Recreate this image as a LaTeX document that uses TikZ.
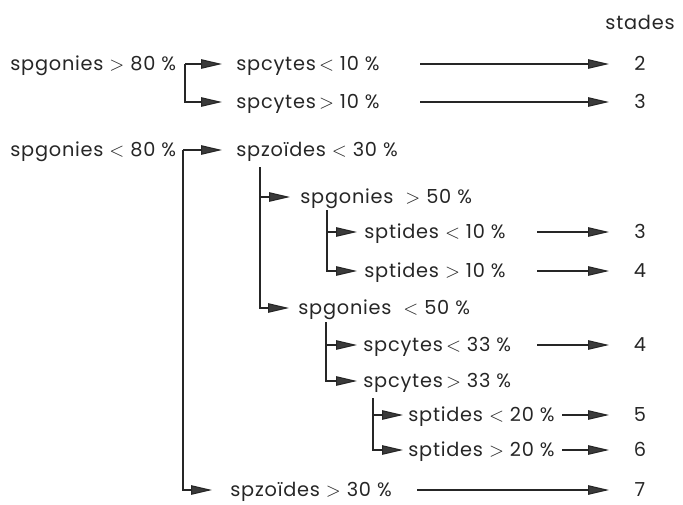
\documentclass[tikz,border=0pt]{standalone}
\usepackage{fontspec}
\setmainfont{Poppins}[LetterSpace=4]
\usetikzlibrary{arrows.meta}
\definecolor{inkgray}{HTML}{262626}
\definecolor{tipgray}{HTML}{3A3A3A}
\newcommand{\lsign}{$<$}
\newcommand{\gsign}{$>$}
\tikzset{
  br/.style={draw=inkgray,line width=0.6pt,
    -{Triangle[length=0.42cm,width=0.19cm,fill=tipgray]}},
}
\begin{document}
\begin{tikzpicture}[x=0.02cm,y=-0.02cm]
      \useasboundingbox (0,0) rectangle (683,504);

      \begin{scope}[every node/.style={anchor=west,inner sep=0pt,text height=7.7pt,text depth=0pt,
          text=inkgray,font=\fontsize{11}{13}\selectfont}]
        \node (l1) at (10,64)   {spgonies \gsign{} 80 \%};
        \node (l2) at (10,150)  {spgonies \lsign{} 80 \%};
        \node (c1) at (236,64)  {spcytes\,\lsign{} 10 \%};
        \node (c2) at (236,102) {spcytes\,\gsign{} 10 \%};
        \node (z1) at (236,150) {spzoïdes \lsign{} 30 \%};
        \node (g1) at (300,197) {spgonies \ \gsign{} 50 \%};
        \node (t1) at (364,232) {sptides \lsign{} 10 \%};
        \node (t2) at (364,271) {sptides \gsign{} 10 \%};
        \node (g2) at (298,308) {spgonies \ \lsign{} 50 \%};
        \node (c3) at (363,345) {spcytes\,\lsign{} 33 \%};
        \node (c4) at (363,381) {spcytes\,\gsign{} 33 \%};
        \node (t3) at (408,415) {sptides \lsign{} 20 \%};
        \node (t4) at (408,450) {sptides \gsign{} 20 \%};
        \node (z2) at (230,490) {spzoïdes \gsign{} 30 \%};
      \end{scope}

      \begin{scope}[every node/.style={anchor=center,inner sep=0pt,text height=7.7pt,text depth=0pt,
          text=inkgray,font=\fontsize{11}{13}\selectfont}]
        \node (st) at (640,23)  {stades};
        \node (r1) at (640,64)  {2};
        \node (r2) at (640,102) {3};
        \node (r3) at (640,232) {3};
        \node (r4) at (640,271) {4};
        \node (r5) at (640,345) {4};
        \node (r6) at (640,415) {5};
        \node (r7) at (640,450) {6};
        \node (r8) at (640,490) {7};
      \end{scope}

      % branch points
      \coordinate (j1) at (185,64);
      \coordinate (j2) at (183,150);
      \coordinate (j3) at (260,167);
      \coordinate (j4) at (327,210);
      \coordinate (j5) at (326,322);
      \coordinate (j6) at (373,398);

      % starts of the arrows to the stades
      \coordinate (a1) at (420,64);
      \coordinate (a2) at (420,102);
      \coordinate (a3) at (537,232);
      \coordinate (a4) at (537,271);
      \coordinate (a5) at (537,345);
      \coordinate (a6) at (562,415);
      \coordinate (a7) at (562,450);
      \coordinate (a8) at (417,490);

      \begin{scope}[every path/.style={br}]
        \draw[shorten >=0.28cm] (j1) -- (c1.west);
        \draw[shorten >=0.28cm] (j1) |- (c2.west);
        \draw[shorten >=0.28cm] (j2) -- (z1.west);
        \draw[shorten >=0.36cm] (j2) |- (z2.west);
        \draw[shorten >=0.2cm]  (j3) |- (g1.west);
        \draw[shorten >=0.18cm] (j3) |- (g2.west);
        \draw[shorten >=0.14cm] (j4) |- (t1.west);
        \draw[shorten >=0.14cm] (j4) |- (t2.west);
        \draw[shorten >=0.12cm] (j5) |- (c3.west);
        \draw[shorten >=0.12cm] (j5) |- (c4.west);
        \draw[shorten >=0.1cm]  (j6) |- (t3.west);
        \draw[shorten >=0.1cm]  (j6) |- (t4.west);
      \end{scope}

      \begin{scope}[every edge/.style={br,shorten >=0.62cm}]
        \path (a1) edge (r1.center);
        \path (a2) edge (r2.center);
        \path (a3) edge (r3.center);
        \path (a4) edge (r4.center);
        \path (a5) edge (r5.center);
        \path (a6) edge (r6.center);
        \path (a7) edge (r7.center);
        \path (a8) edge (r8.center);
      \end{scope}

\end{tikzpicture}
\end{document}
